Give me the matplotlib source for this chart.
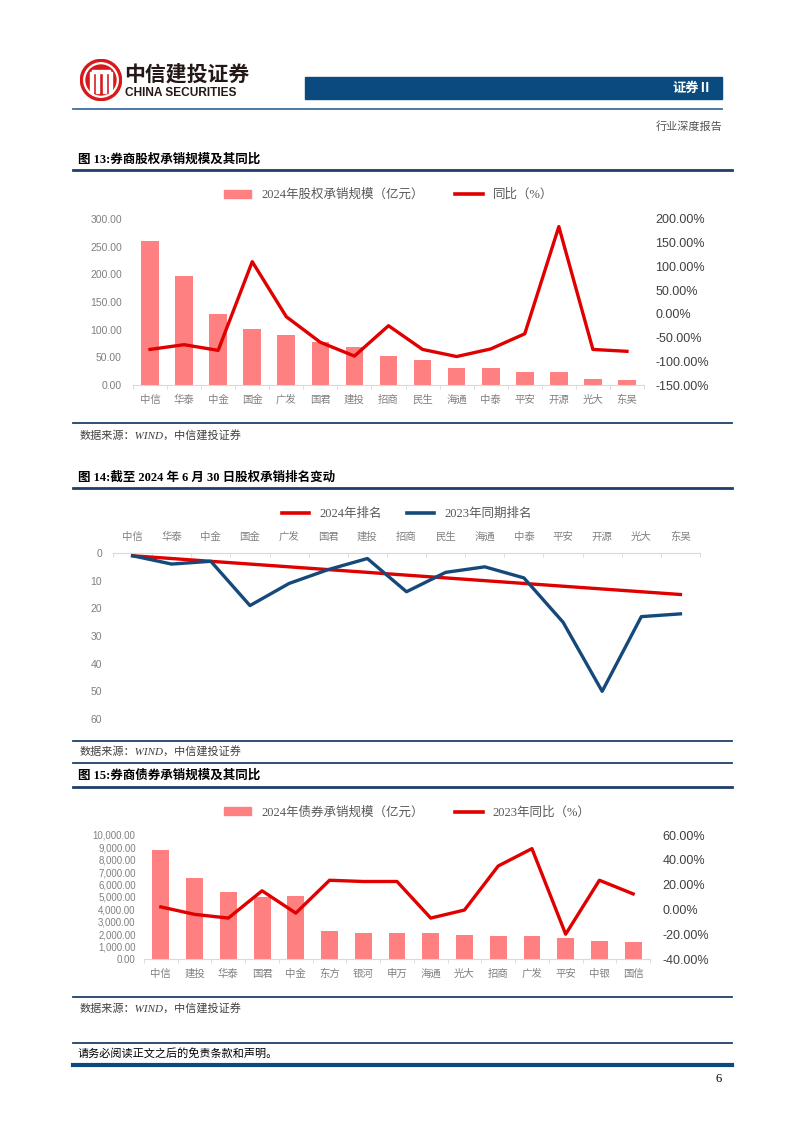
import numpy as np
import matplotlib
matplotlib.use('Agg')
import matplotlib.pyplot as plt
from matplotlib.lines import Line2D
from matplotlib.patches import Rectangle, Circle
from matplotlib.ticker import FuncFormatter

plt.rcParams['font.family'] = ['Liberation Sans', 'Noto Sans CJK SC', 'DejaVu Sans']
plt.rcParams['axes.unicode_minus'] = False

# 图13 股权承销
brokers_eq = ['中信', '华泰', '中金', '国金', '广发', '国君', '建投', '招商',
              '民生', '海通', '中泰', '平安', '开源', '光大', '东吴']
eq_scale = [260, 197, 128, 102, 91, 77, 68, 53, 46, 31, 31, 24, 24, 11, 9]
eq_yoy = [-75, -65, -77, 110, -6, -60, -89, -25, -75, -90, -74, -42, 184, -75, -79]

# 图14 排名
rank_2024 = [1, 2, 3, 4, 5, 6, 7, 8, 9, 10, 11, 12, 13, 14, 15]
rank_2023 = [1, 4, 3, 19, 11, 6, 2, 14, 7, 5, 9, 25, 50, 23, 22]

# 图15 债券承销
brokers_bond = ['中信', '建投', '华泰', '国君', '中金', '东方', '银河', '申万',
                '海通', '光大', '招商', '广发', '平安', '中银', '国信']
bond_scale = [8800, 6550, 5400, 5000, 5050, 2260, 2100, 2100, 2100, 1910, 1860, 1860, 1700, 1450, 1370]
bond_yoy = [2, -4, -7, 15, -3, 23.5, 22.5, 22.5, -7, -0.5, 35, 49, -20, 23.5, 12.5]

W, H = 802, 1133
BAR = '#FF8080'
RED = '#E00000'
NAVY = '#15497A'
DARK = '#1F3F6A'
GRAY = '#808080'
SERIF = ['Liberation Serif', 'Noto Sans CJK SC']

fig = plt.figure(figsize=(W / 100, H / 100), dpi=100)


def box(l, t, r, b):
    return [l / W, 1 - b / H, (r - l) / W, (b - t) / H]


def text(x, y, s, **kw):
    kw.setdefault('va', 'center')
    fig.text(x / W, 1 - y / H, s, **kw)


def hline(y, x1=73, x2=732, lw=1.0, color=DARK):
    fig.add_artist(Line2D([x1 / W, x2 / W], [1 - y / H, 1 - y / H],
                          transform=fig.transFigure, lw=lw, color=color))


# ---- header ----
logo = fig.add_axes(box(80, 59, 122, 101))
logo.set_xlim(0, 1)
logo.set_ylim(0, 1)
logo.set_aspect('equal')
logo.axis('off')
logo.add_patch(Circle((0.5, 0.5), 0.49, color='#D7191C'))
logo.add_patch(Circle((0.5, 0.5), 0.40, fill=False, ec='white', lw=1.6))
for xx in [0.28, 0.42, 0.58, 0.72]:
    logo.add_patch(Rectangle((xx - 0.035, 0.2), 0.07, 0.5, color='white'))
logo.add_patch(Rectangle((0.28, 0.66), 0.44, 0.07, color='white'))

text(124, 74, '中信建投证券', fontsize=15, fontweight='bold', color='#231815',
     family=['Noto Sans CJK SC'])
text(125, 93, 'CHINA SECURITIES', fontsize=8.6, fontweight='bold', color='#231815')
fig.add_artist(Rectangle((305 / W, 1 - 99 / H), (722 - 305) / W, 22 / H,
                         transform=fig.transFigure, color='#0B4A7E'))
text(712, 88, '证券Ⅱ', fontsize=9.5, fontweight='bold', color='white', ha='right',
     family=['Noto Sans CJK SC', 'DejaVu Sans'])
hline(109, 73, 722, lw=1.3, color='#3E6E9E')
text(722, 127, '行业深度报告', fontsize=8, color='#555555', ha='right')


def title(y, s):
    text(78, y, s, fontsize=9, fontweight='bold', color='black', family=SERIF)


def source(y):
    text(80, y, '数据来源：WIND，中信建投证券', fontsize=8, color='#404040', style='italic',
         family=['Liberation Serif', 'Noto Sans CJK SC'])


def style_cat_axis(ax, labels):
    ax.set_xlim(-0.5, len(labels) - 0.5)
    ax.set_xticks(np.arange(len(labels)))
    ax.set_xticklabels(labels)
    ax.set_xticks(np.arange(len(labels) + 1) - 0.5, minor=True)
    ax.tick_params(axis='x', which='major', length=0, labelsize=7.5, labelcolor=GRAY)
    ax.tick_params(axis='x', which='minor', length=3, color='#D9D9D9')


LEG = {'family': SERIF, 'size': 9}

# ---- 图13 ----
title(160, '图 13:券商股权承销规模及其同比')
hline(170, lw=2.0)
ax1 = fig.add_axes(box(133, 219, 644, 385))
x = np.arange(len(brokers_eq))
ax1.bar(x, eq_scale, width=0.52, color=BAR, zorder=2)
ax1.set_ylim(0, 300)
ax1.set_yticks(np.arange(0, 301, 50))
ax1.yaxis.set_major_formatter(FuncFormatter(lambda v, p: f'{v:.2f}'))
ax1.tick_params(axis='y', length=0, labelsize=7.5, labelcolor=GRAY, pad=8)
style_cat_axis(ax1, brokers_eq)
ax1.tick_params(axis='x', pad=7)
for s in ['top', 'right', 'left']:
    ax1.spines[s].set_visible(False)
ax1.spines['bottom'].set_color('#D9D9D9')
ax1r = ax1.twinx()
ax1r.plot(x, eq_yoy, color=RED, lw=2.4, zorder=3)
ax1r.set_ylim(-150, 200)
ax1r.set_yticks(np.arange(-150, 201, 50))
ax1r.yaxis.set_major_formatter(FuncFormatter(lambda v, p: f'{v:.2f}%'))
ax1r.tick_params(axis='y', length=0, labelsize=9, labelcolor='#404040', pad=8)
for s in ax1r.spines.values():
    s.set_visible(False)
h1 = [Rectangle((0, 0), 1, 1, color=BAR), Line2D([], [], color=RED, lw=2.6)]
ax1.legend(h1, ['2024年股权承销规模（亿元）', '同比（%）'], loc='lower center',
           bbox_to_anchor=(0.5, 1.04), ncol=2, frameon=False, columnspacing=2.5,
           handlelength=2.2, handleheight=0.6, prop=LEG, labelcolor='#595959')

hline(423, lw=1.3)
source(436)

# ---- 图14 ----
title(478, '图 14:截至 2024 年 6 月 30 日股权承销排名变动')
hline(488, lw=2.0)
ax2 = fig.add_axes(box(113, 553, 700, 719))
x2 = np.arange(len(brokers_eq))
ax2.plot(x2, rank_2024, color=RED, lw=2.4, zorder=3)
ax2.plot(x2, rank_2023, color=NAVY, lw=2.4, zorder=3)
ax2.set_ylim(60, 0)
ax2.set_yticks(np.arange(0, 61, 10))
ax2.tick_params(axis='y', length=0, labelsize=7.5, labelcolor=GRAY, pad=8)
style_cat_axis(ax2, brokers_eq)
ax2.xaxis.tick_top()
ax2.tick_params(axis='x', which='both', pad=8, direction='in')
for s in ['bottom', 'right', 'left']:
    ax2.spines[s].set_visible(False)
ax2.spines['top'].set_color('#D9D9D9')
h2 = [Line2D([], [], color=RED, lw=2.6), Line2D([], [], color=NAVY, lw=2.6)]
ax2.legend(h2, ['2024年排名', '2023年同期排名'], loc='lower center',
           bbox_to_anchor=(0.5, 1.13), ncol=2, frameon=False, columnspacing=2.0,
           handlelength=2.2, prop=LEG, labelcolor='#595959')

hline(741, lw=1.3)
source(752)
hline(763, lw=1.3)

# ---- 图15 ----
title(776, '图 15:券商债券承销规模及其同比')
hline(787, lw=2.0)
ax3 = fig.add_axes(box(144, 835, 650, 959))
x3 = np.arange(len(brokers_bond))
ax3.bar(x3, bond_scale, width=0.5, color=BAR, zorder=2)
ax3.set_ylim(0, 10000)
ax3.set_yticks(np.arange(0, 10001, 1000))
ax3.yaxis.set_major_formatter(FuncFormatter(lambda v, p: f'{v:,.2f}'))
ax3.tick_params(axis='y', length=0, labelsize=7, labelcolor=GRAY, pad=6)
style_cat_axis(ax3, brokers_bond)
ax3.tick_params(axis='x', pad=7)
for s in ['top', 'right', 'left']:
    ax3.spines[s].set_visible(False)
ax3.spines['bottom'].set_color('#D9D9D9')
ax3r = ax3.twinx()
ax3r.plot(x3, bond_yoy, color=RED, lw=2.4, zorder=3)
ax3r.set_ylim(-40, 60)
ax3r.set_yticks(np.arange(-40, 61, 20))
ax3r.yaxis.set_major_formatter(FuncFormatter(lambda v, p: f'{v:.2f}%'))
ax3r.tick_params(axis='y', length=0, labelsize=9, labelcolor='#404040', pad=9)
for s in ax3r.spines.values():
    s.set_visible(False)
h3 = [Rectangle((0, 0), 1, 1, color=BAR), Line2D([], [], color=RED, lw=2.6)]
ax3.legend(h3, ['2024年债券承销规模（亿元）', '2023年同比（%）'], loc='lower center',
           bbox_to_anchor=(0.52, 1.04), ncol=2, frameon=False, columnspacing=2.5,
           handlelength=2.2, handleheight=0.6, prop=LEG, labelcolor='#595959')

hline(997, lw=1.3)
source(1009)

# ---- footer ----
hline(1043, lw=1.3)
text(78, 1053, '请务必阅读正文之后的免责条款和声明。', fontsize=8, color='black')
hline(1065, lw=3.0, color='#0B4A7E')
text(722, 1079, '6', fontsize=9, color='black', ha='right', family=['Liberation Serif'])

fig.savefig('out.png', dpi=100)
